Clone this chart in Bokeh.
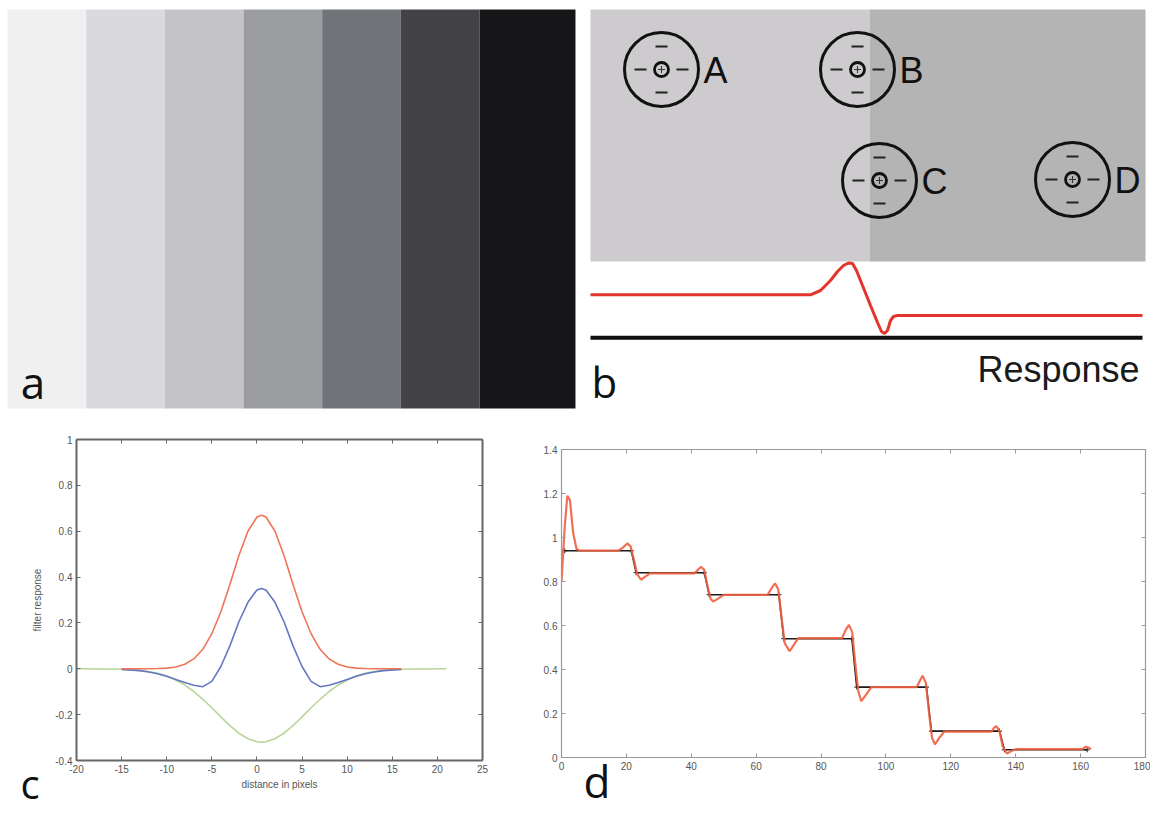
from bokeh.plotting import figure
from bokeh.models import Range1d, LinearAxis, FixedTicker
from bokeh.layouts import column, row
from bokeh.embed import file_html
from bokeh.resources import INLINE
from bokeh.core.properties import value

NaN = float("nan")

# ---------------- panel a : luminance staircase stimulus
stripe_gray = ["#f0f0f1", "#dadade", "#c4c4c8", "#9c9da1", "#717378", "#434246", "#161618"]

# ---------------- panel b : receptive fields over an edge (stimulus coordinates)
field_edges = [590, 869, 1145]
field_gray = ["#cdcbcd", "#b5b4b5"]
rf_labels = ["A", "B", "C", "D"]
rf_x = [661, 857, 879, 1072]
rf_y = [69, 69, 180, 179]
resp_x = [590, 810, 820, 830, 837, 843, 848, 852, 856, 862, 870, 877, 881, 884, 887, 890, 893, 897, 1142]
resp_y = [294.3, 294.3, 290, 280, 271, 265, 262.5, 263, 270, 285, 305, 322, 331, 333, 330, 320, 316, 315, 315]
base_x = [590, 1142]
base_y = [337.3, 337.3]

# ---------------- panel c : filter profiles
dist_px = [-20, -15, -13, -12, -11, -10, -9, -8, -7, -6, -5, -4, -3, -2, -1, 0, 0.5,
           1, 2, 3, 4, 5, 6, 7, 8, 9, 10, 11, 12, 13, 14, 16, 21]
filt_center = [NaN, 0.0, 0.0, 0.0, 0.001, 0.003, 0.008, 0.020, 0.043, 0.085, 0.153, 0.249, 0.368,
               0.494, 0.600, 0.662, 0.670, 0.662, 0.600, 0.494, 0.368, 0.249, 0.153, 0.085, 0.043,
               0.020, 0.008, 0.003, 0.001, 0.0, 0.0, 0.0, NaN]
filt_surround = [0.0, -0.002, -0.007, -0.012, -0.020, -0.032, -0.049, -0.071, -0.099, -0.133, -0.170,
                 -0.210, -0.248, -0.281, -0.305, -0.318, -0.320, -0.318, -0.305, -0.281, -0.248,
                 -0.210, -0.170, -0.133, -0.099, -0.071, -0.049, -0.032, -0.020, -0.012, -0.007,
                 -0.002, 0.0]
filt_dog = [NaN, -0.003, -0.008, -0.014, -0.022, -0.033, -0.047, -0.060, -0.072, -0.078, -0.055,
            0.01, 0.10, 0.205, 0.29, 0.344, 0.35, 0.344, 0.29, 0.205, 0.10, 0.01, -0.055, -0.078,
            -0.072, -0.060, -0.047, -0.033, -0.022, -0.014, -0.008, -0.003, NaN]
c_xticks = [-20, -15, -10, -5, 0, 5, 10, 15, 20, 25]
c_xlabels = ["-20", "-15", "-10", "-5", "0", "5", "10", "15", "20", "25"]
c_yticks = [-0.4, -0.2, 0, 0.2, 0.4, 0.6, 0.8, 1]
c_ylabels = ["-0.4", "-0.2", "0", "0.2", "0.4", "0.6", "0.8", "1"]

# ---------------- panel d : staircase input and model output
stair_x = [1, 21.5, 23, 44, 45.5, 67, 68.5, 89.5, 91, 112.5, 114, 135, 136.5, 162]
stair_y = [0.94, 0.94, 0.84, 0.84, 0.74, 0.74, 0.54, 0.54, 0.32, 0.32, 0.12, 0.12, 0.035, 0.035]
model_x = [0, 1, 1.8, 2.6, 3.6, 4.6, 5.5, 17.5, 19, 20.3, 21.3, 22.3, 23.3, 24.5, 25.8, 27.3,
           41, 42, 43, 44, 45, 46, 46.8, 48, 50,
           63.5, 64.8, 65.8, 66.8, 67.8, 68.8, 70.3, 71.5, 73,
           86.5, 87.6, 88.6, 89.6, 90.6, 91.5, 92.4, 93.6, 95.5,
           109.5, 110.5, 111.3, 112.3, 113.3, 114.2, 115.1, 116.5, 118,
           132.5, 133.3, 134, 135, 136, 137.3, 138.5, 140,
           160.5, 161.5, 162.5, 163.2]
model_y = [0.80, 1.05, 1.19, 1.17, 1.02, 0.95, 0.94, 0.94, 0.955, 0.973, 0.96, 0.90, 0.835, 0.808, 0.822, 0.837,
           0.837, 0.852, 0.867, 0.853, 0.78, 0.72, 0.709, 0.72, 0.739,
           0.739, 0.77, 0.792, 0.765, 0.64, 0.52, 0.483, 0.51, 0.543,
           0.543, 0.58, 0.603, 0.57, 0.42, 0.30, 0.256, 0.28, 0.32,
           0.32, 0.35, 0.372, 0.34, 0.20, 0.09, 0.06, 0.09, 0.118,
           0.118, 0.135, 0.143, 0.12, 0.05, 0.018, 0.028, 0.038,
           0.038, 0.048, 0.045, 0.038]
d_xticks = [0, 20, 40, 60, 80, 100, 120, 140, 160, 180]
d_yticks = [0, 0.2, 0.4, 0.6, 0.8, 1, 1.2, 1.4]
d_ylabels = ["0", "0.2", "0.4", "0.6", "0.8", "1", "1.2", "1.4"]

# panel letters
letters = ["a", "b", "c", "d"]

LETTER_FONT = "Open Sans"
SANS = "Liberation Sans"


def bare(p):
    p.grid.visible = False
    p.outline_line_color = None
    p.background_fill_color = "white"
    p.border_fill_color = "white"


# ===== panel a  (canvas x 0..583, y 0..414)
pa = figure(width=583, height=414, x_range=Range1d(-0.089, 7.322), y_range=Range1d(-0.015, 1.0226),
            x_axis_location=None, y_axis_location=None, toolbar_location=None,
            output_backend="svg", min_border=0)
bare(pa)
idx = list(range(len(stripe_gray)))
rights = [i + 1 for i in idx]
rights[-1] = 7.22
pa.quad(left=idx, right=rights, bottom=0, top=1, fill_color=stripe_gray, line_color=None)
pa.text(x=[0.17], y=[0.066], text=[letters[0]], text_font=value(LETTER_FONT), text_font_size="44px",
        text_color="#111111", text_baseline="middle", text_align="left")

# ===== panel b  (canvas x 583..1150, y 0..414); data units = page pixels
pb = figure(width=567, height=414, x_range=Range1d(583, 1150), y_range=Range1d(414, 0),
            x_axis_location=None, y_axis_location=None, toolbar_location=None,
            output_backend="svg", min_border=0)
bare(pb)
pb.quad(left=field_edges[:-1], right=field_edges[1:], top=9, bottom=261,
        fill_color=field_gray, line_color=None)
pb.circle(x=rf_x, y=rf_y, radius=37, fill_color=None, line_color="#111111", line_width=3)
pb.circle(x=rf_x, y=rf_y, radius=7, fill_color=None, line_color="#111111", line_width=2.8)
pb.scatter(x=rf_x, y=rf_y, marker="cross", size=7, line_color="#333333", line_width=1.1)
dash_x, dash_y = [], []
for cx, cy in zip(rf_x, rf_y):
    dash_x += [cx, cx, cx - 21, cx + 21]
    dash_y += [cy - 23, cy + 23, cy, cy]
pb.scatter(x=dash_x, y=dash_y, marker="dash", size=12, line_color="#222222", line_width=2.2)
pb.text(x=[x + 42 for x in rf_x], y=[y + 1 for y in rf_y], text=rf_labels,
        text_font=value(SANS), text_font_size="36px", text_baseline="middle",
        text_align="left", text_color="#111111")
pb.line(resp_x, resp_y, line_color="#e3352b", line_width=3)
pb.line(base_x, base_y, line_color="#111111", line_width=4)
pb.text(x=[1139], y=[369], text=["Response"], text_font=value(SANS), text_font_size="36px",
        text_align="right", text_baseline="middle", text_color="#1a1a1a")
pb.text(x=[591], y=[381], text=[letters[1]], text_font=value(LETTER_FONT), text_font_size="42px",
        text_color="#111111", text_baseline="middle", text_align="left")


def matlab_axes(p, xticks, xlabels, yticks, ylabels, color, width, font_px):
    bottom = p.below[0]
    left = p.left[0]
    bottom.ticker = FixedTicker(ticks=xticks)
    left.ticker = FixedTicker(ticks=yticks)
    bottom.major_label_overrides = {t: s for t, s in zip(xticks, xlabels)}
    left.major_label_overrides = {t: s for t, s in zip(yticks, ylabels)}
    top = LinearAxis(ticker=FixedTicker(ticks=xticks), major_label_standoff=0,
                     major_label_overrides={t: "" for t in xticks})
    right = LinearAxis(ticker=FixedTicker(ticks=yticks), major_label_standoff=0,
                       major_label_overrides={t: "" for t in yticks})
    p.add_layout(top, "above")
    p.add_layout(right, "right")
    for ax in [bottom, left, top, right]:
        ax.axis_line_color = color
        ax.axis_line_width = width
        ax.major_tick_line_color = color
        ax.major_tick_line_width = 1
        ax.major_tick_in = 4
        ax.major_tick_out = 0
        ax.minor_tick_line_color = None
    for ax in [bottom, left]:
        ax.major_label_text_font = SANS
        ax.major_label_text_font_size = font_px
        ax.major_label_text_color = "#555555"
        ax.major_label_standoff = 4
    return bottom, left


# ===== panel c  (canvas x 0..520, y 414..813)
pc = figure(width=520, height=399, x_range=Range1d(-20, 25), y_range=Range1d(-0.4, 1),
            toolbar_location=None, output_backend="svg", min_border_left=76,
            min_border_right=38, min_border_top=25, min_border_bottom=53)
bare(pc)
cb, cl = matlab_axes(pc, c_xticks, c_xlabels, c_yticks, c_ylabels, "#666666", 2, "10px")
cb.axis_label = "distance in pixels"
cl.axis_label = "filter response"
for ax in [cb, cl]:
    ax.axis_label_text_font = SANS
    ax.axis_label_text_font_size = "10px"
    ax.axis_label_text_font_style = "normal"
    ax.axis_label_text_color = "#555555"
cb.axis_label_standoff = 3
cl.axis_label_standoff = 9
pc.line(dist_px, filt_surround, line_color="#b9d59a", line_width=1.6)
pc.line(dist_px, filt_dog, line_color="#6377c2", line_width=1.6)
pc.line(dist_px, filt_center, line_color="#ef7458", line_width=1.6)

# ===== panel d  (canvas x 520..1150, y 414..813)
pd = figure(width=630, height=399, x_range=Range1d(0, 180), y_range=Range1d(0, 1.4),
            toolbar_location=None, output_backend="svg", min_border_left=41,
            min_border_right=5, min_border_top=35, min_border_bottom=56)
bare(pd)
matlab_axes(pd, d_xticks, [str(t) for t in d_xticks], d_yticks, d_ylabels, "#9a9a9a", 1.2, "10px")
pd.line(stair_x, stair_y, line_color="#1a1a1a", line_width=1.6)
pd.scatter(stair_x, stair_y, marker="cross", size=5, line_color="#1a1a1a", line_width=1)
pd.line(model_x, model_y, line_color="#f06040", line_width=2.2, line_alpha=0.9)

# ===== transparent strip carrying the letters c and d (overlaps the bottom of row 2)
pl = figure(width=1150, height=80, x_range=Range1d(0, 1150), y_range=Range1d(814, 734),
            x_axis_location=None, y_axis_location=None, toolbar_location=None,
            output_backend="svg", min_border=0, margin=(-79, 0, 0, 0))
pl.grid.visible = False
pl.outline_line_color = None
pl.background_fill_color = None
pl.border_fill_color = None
pl.text(x=[20, 583], y=[783, 780], text=letters[2:], text_font=value(LETTER_FONT),
        text_font_size=["40px", "44px"], text_color="#111111", text_baseline="middle",
        text_align="left")

layout = column(row(pa, pb), row(column(pc), column(pd)), pl)
open("out.html", "w").write(file_html(layout, INLINE))
